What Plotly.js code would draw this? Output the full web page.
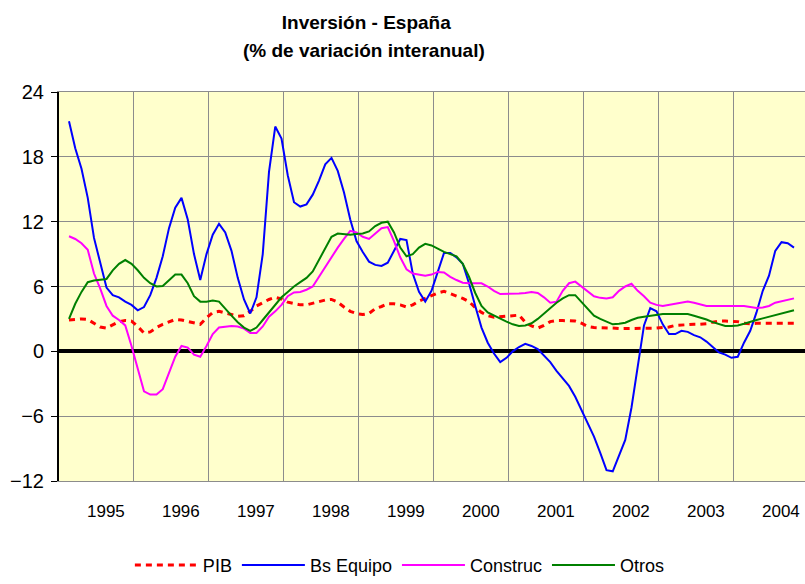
<!DOCTYPE html>
<html>
<head>
<meta charset="utf-8">
<script src="https://cdn.plot.ly/plotly-3.0.1.min.js"></script>
<style>html,body{margin:0;padding:0;background:#fff;}#chart{width:805px;height:584px;}</style>
</head>
<body>
<div id="chart"></div>
<script>
// Monthly series (first observation = month index 0)
var pib = [2.9,2.95,3.0,2.95,2.6,2.25,2.15,2.45,2.75,2.85,
  2.8,2.3,1.7,1.8,2.2,2.5,2.75,2.95,2.9,2.75,
  2.6,2.5,3.1,3.6,3.7,3.55,3.4,3.25,3.3,3.7,
  4.2,4.5,4.8,5.0,4.85,4.55,4.4,4.3,4.3,4.45,
  4.6,4.75,4.8,4.55,4.1,3.7,3.5,3.4,3.5,3.95,
  4.15,4.4,4.4,4.3,4.1,4.3,4.65,4.9,5.15,5.4,
  5.55,5.35,5.1,4.9,4.6,4.05,3.6,3.3,3.15,3.2,
  3.3,3.3,3.35,2.7,2.35,2.15,2.4,2.75,2.85,2.85,
  2.8,2.8,2.6,2.3,2.2,2.2,2.2,2.15,2.1,2.1,
  2.1,2.1,2.1,2.1,2.15,2.2,2.25,2.4,2.45,2.5,
  2.5,2.5,2.55,2.7,2.8,2.8,2.8,2.75,2.6,2.55,
  2.6,2.6,2.6,2.6,2.6,2.6,2.6];
var bsEquipo = [21.3,18.8,16.9,14.2,10.5,8.2,5.9,5.2,5.0,4.6,
  4.3,3.8,4.1,5.2,6.8,8.8,11.4,13.3,14.2,12.2,
  9.0,6.6,9.0,10.8,11.8,11.0,9.3,6.8,4.8,3.5,
  5.0,9.0,16.6,20.8,19.7,16.3,13.8,13.4,13.6,14.5,
  15.8,17.3,17.9,16.7,14.7,12.2,10.2,9.2,8.3,8.0,
  7.9,8.2,9.3,10.4,10.3,7.2,5.5,4.6,5.6,7.4,
  9.1,9.1,8.7,8.1,6.3,4.2,2.2,0.8,-0.2,-1.0,
  -0.6,0.0,0.4,0.7,0.5,0.2,-0.4,-1.0,-1.8,-2.5,
  -3.2,-4.2,-5.4,-6.6,-7.9,-9.4,-11.0,-11.1,-9.7,-8.2,
  -5.2,-1.6,2.4,4.0,3.7,2.5,1.6,1.6,1.9,1.8,
  1.5,1.3,0.9,0.4,-0.1,-0.3,-0.6,-0.5,0.8,1.9,
  3.6,5.6,7.0,9.3,10.1,10.0,9.6];
var construc = [10.65,10.4,10.0,9.4,7.2,5.8,4.2,3.3,2.9,2.4,
  0.5,-1.7,-3.7,-4.0,-4.0,-3.5,-2.0,-0.5,0.5,0.35,
  -0.3,-0.5,0.5,1.6,2.2,2.3,2.35,2.3,2.1,1.7,
  1.7,2.3,3.2,3.7,4.3,5.1,5.45,5.5,5.7,6.0,
  6.9,7.9,8.8,9.6,10.4,11.15,11.0,10.6,10.4,10.9,
  11.4,11.5,10.2,8.7,7.6,7.2,7.1,7.0,7.1,7.35,
  7.3,6.9,6.6,6.35,6.3,6.3,6.3,6.0,5.6,5.3,
  5.3,5.3,5.35,5.4,5.5,5.4,5.0,4.5,4.6,5.6,
  6.3,6.45,6.0,5.5,5.1,4.95,4.9,5.0,5.6,6.0,
  6.25,5.6,5.1,4.5,4.3,4.2,4.3,4.4,4.55,4.6,
  4.5,4.35,4.2,4.2,4.2,4.2,4.2,4.2,4.2,4.1,
  4.0,4.05,4.2,4.5,4.65,4.75,4.9];
var otros = [3.0,4.4,5.5,6.4,6.55,6.6,6.7,7.5,8.1,8.45,
  8.1,7.5,6.8,6.3,6.0,6.05,6.6,7.1,7.1,6.3,
  5.1,4.6,4.6,4.7,4.6,3.9,3.3,2.7,2.2,1.9,
  2.2,2.9,3.6,4.3,5.0,5.5,6.0,6.4,6.8,7.4,
  8.5,9.6,10.6,10.9,10.85,10.8,10.85,10.9,11.1,11.6,
  11.9,12.0,11.0,9.6,8.8,9.0,9.6,9.95,9.8,9.5,
  9.2,9.0,8.8,8.1,6.9,5.4,4.2,3.6,3.3,3.0,
  2.75,2.5,2.35,2.4,2.6,3.0,3.5,4.0,4.5,4.9,
  5.2,5.2,4.6,3.9,3.3,3.0,2.75,2.5,2.55,2.65,
  2.9,3.1,3.2,3.3,3.4,3.45,3.45,3.45,3.45,3.45,
  3.3,3.15,2.95,2.7,2.5,2.35,2.35,2.4,2.55,2.75,
  2.9,3.05,3.2,3.4,3.55,3.7,3.8];
var yearLabels = ['1995','1996','1997','1998','1999','2000','2001','2002','2003','2004'];
var seriesNames = ['PIB','Bs Equipo','Construc','Otros'];

var months = pib.map(function(_, i){ return i; });
// axis layout helpers (positions in month-index units)
var gridVals = yearLabels.map(function(_, k){ return 10.3 + 12*k; }).slice(0, 9);
var labelVals = yearLabels.map(function(_, k){ return 5.9 + 12*k; });
var xRange = [-1.6, 117.76];

var traces = [
  {x: months, y: pib, name: seriesNames[0], mode: 'lines', line: {color: '#FF0000', width: 3, dash: '6px,5px'}},
  {x: months, y: bsEquipo, name: seriesNames[1], mode: 'lines', line: {color: '#0000FF', width: 2}},
  {x: months, y: construc, name: seriesNames[2], mode: 'lines', line: {color: '#FF00FF', width: 2}},
  {x: months, y: otros, name: seriesNames[3], mode: 'lines', line: {color: '#008000', width: 2}},
  {x: labelVals, y: labelVals.map(function(){ return null; }), xaxis: 'x2', showlegend: false, hoverinfo: 'skip', mode: 'lines'}
];

var layout = {
  width: 805, height: 584,
  margin: {l: 59, r: 0, t: 92, b: 100},
  paper_bgcolor: '#FFFFFF',
  plot_bgcolor: '#FFFFCC',
  font: {family: 'Liberation Sans, Arial, sans-serif', color: '#000000'},
  title: {text: '<b>Inversión - España</b>', x: 0.455, xanchor: 'center', y: 1 - 22/584, yanchor: 'middle',
          font: {size: 19, color: '#000000'}},
  annotations: [{text: '<b>(% de variación interanual)</b>', xref: 'paper', yref: 'paper',
     x: (364 - 59)/746, y: (484 - 50)/392, xanchor: 'center', yanchor: 'middle', showarrow: false,
     font: {size: 19, color: '#000000'}}],
  xaxis: {range: xRange, tickmode: 'array', tickvals: gridVals, showticklabels: false,
          showgrid: true, gridcolor: '#8C8C8C', gridwidth: 1, zeroline: false,
          showline: true, linecolor: '#8C8C8C', linewidth: 1, mirror: true, ticks: ''},
  xaxis2: {overlaying: 'x', range: xRange, side: 'bottom', tickmode: 'array', tickvals: labelVals, ticktext: yearLabels,
           showgrid: false, zeroline: false, showline: false, ticks: '', tickfont: {size: 17}, ticklabelstandoff: 18},
  yaxis: {range: [-12, 24], tickmode: 'array', tickvals: [-12,-6,0,6,12,18,24],
          showgrid: true, gridcolor: '#8C8C8C', gridwidth: 1,
          zeroline: true, zerolinecolor: '#000000', zerolinewidth: 4,
          showline: true, linecolor: '#000000', linewidth: 2,
          ticks: 'outside', ticklen: 6, tickcolor: '#000000', tickwidth: 1,
          tickfont: {size: 20}, ticklabelstandoff: 3},
  showlegend: true,
  legend: {orientation: 'h', x: 0.095, xanchor: 'left', y: -0.217, yanchor: 'middle',
           font: {size: 18}, itemwidth: 63, bgcolor: 'rgba(0,0,0,0)'},
  hovermode: false
};

Plotly.newPlot('chart', traces, layout, {staticPlot: true, displayModeBar: false});
</script>
</body>
</html>
